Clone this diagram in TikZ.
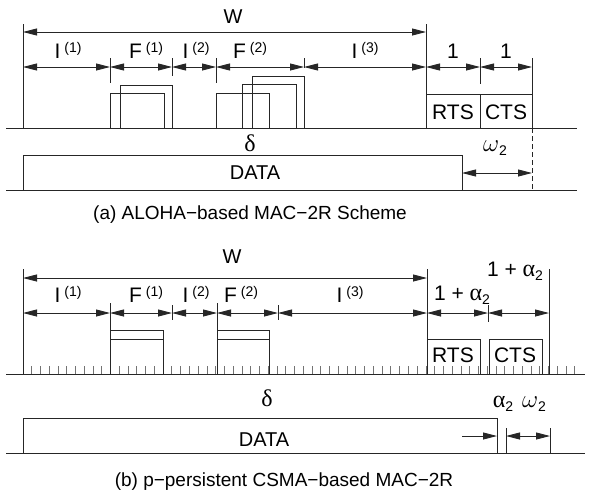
\documentclass[tikz,border=0pt]{standalone}
\usepackage{fontspec}
\setmainfont{Liberation Sans}
\newfontfamily\grk{Liberation Serif}
\usetikzlibrary{arrows.meta}
\newcommand\suplab[2]{#1\hspace{4pt}\raisebox{6pt}{\fontsize{14}{14}\selectfont(#2)}}
\newcommand\subtwo{\raisebox{-4pt}{\fontsize{14}{14}\selectfont 2}}
\newcommand\galpha{{\fontsize{24}{24}\selectfont\grk α}}
\newcommand\gomega{{\fontsize{24}{24}\selectfont$\omega$}}
\newcommand\onealpha{1 + \galpha\subtwo}
\tikzset{
  ln/.style={line width=0.9pt, draw=black!85},
  bx/.style={line width=0.9pt, draw=black!85},
  dimarr/.style={line width=0.9pt, draw=black!85, {Triangle[length=14pt,width=7pt]}-{Triangle[length=14pt,width=7pt]}},
  onearr/.style={line width=0.9pt, draw=black!85, -{Triangle[length=14pt,width=7pt]}},
  smalltick/.style={line width=0.9pt, draw=black!55},
  lab/.style={inner sep=0pt, font=\fontsize{21}{24}\selectfont},
  mid/.style={inner sep=0pt, font=\fontsize{20}{23}\selectfont},
  grtxt/.style={inner sep=0pt, font=\fontsize{24}{26}\selectfont\grk},
  captxt/.style={inner sep=0pt, font=\fontsize{19}{22}\selectfont}
}
\begin{document}
\begin{tikzpicture}[x=1pt,y=-1pt]
\useasboundingbox (0,0) rectangle (591,498);
% ================= (a) =================
\coordinate (aB1l) at (6,128);   \coordinate (aB1r) at (577,128);
\coordinate (aB2l) at (6,190);   \coordinate (aB2r) at (577,190);
\draw[ln] (aB1l) -- (aB1r);
\draw[ln] (aB2l) -- (aB2r);
\coordinate (aL0) at (23,24);  \coordinate (aL1) at (23,128);
\coordinate (aR0) at (426,24); \coordinate (aR1) at (426,128);
\draw[ln] (aL0) -- (aL1);
\draw[ln] (aR0) -- (aR1);
\draw[dimarr] (23,32) -- (426,32);
\node[mid] (aW) at (233,17) {W};
% ticks
\draw[ln] (110,58) -- (110,83);
\draw[ln] (172,58) -- (172,76);
\draw[ln] (216,58) -- (216,83);
\draw[ln] (304,58) -- (304,68);
\draw[ln] (480,58) -- (480,84);
\draw[ln] (532,58) -- (532,128);
\draw[ln, dash pattern=on 5pt off 3pt] (532,128) -- (532,190);
% dims
\draw[dimarr] (23,67) -- (110,67);
\draw[dimarr] (110,67) -- (172,67);
\draw[dimarr] (172,67) -- (216,67);
\draw[dimarr] (216,67) -- (304,67);
\draw[dimarr] (304,67) -- (426,67);
\draw[dimarr] (426,67) -- (480,67);
\draw[dimarr] (480,67) -- (532,67);
\node[lab] (aI1) at (68,50) {\suplab{I}{1}};
\node[lab] (aF1) at (146,50) {\suplab{F}{1}};
\node[lab] (aI2) at (196,50) {\suplab{I}{2}};
\node[lab] (aF2) at (250,50) {\suplab{F}{2}};
\node[lab] (aI3) at (365,50) {\suplab{I}{3}};
\node[lab] (aOne1) at (453,51) {1};
\node[lab] (aOne2) at (506,51) {1};
% frames
\draw[bx] (110,93) rectangle (164,128);
\draw[bx] (120,85) rectangle (172,128);
\draw[bx] (216,93) rectangle (269,128);
\draw[bx] (242,84) rectangle (296,128);
\draw[bx] (252,76) rectangle (304,128);
\draw[bx] (426,94) rectangle (480,128);
\draw[bx] (480,94) rectangle (532,128);
\node[lab] (aRTS) at (453,112) {RTS};
\node[lab] (aCTS) at (506,112) {CTS};
% data
\node[grtxt] (aDelta) at (250,143) {δ};
\draw[bx] (23,155) rectangle (462,190);
\node[mid] (aDATA) at (255,173) {DATA};
\draw[dimarr] (462,173) -- (532,173);
\node[inner sep=0pt] (aOm) at (495,148) {\gomega\subtwo};
\node[captxt] (capA) at (250,215) {(a) ALOHA−based MAC−2R Scheme};
% ================= (b) =================
\draw[ln] (6,374) -- (585,374);
\draw[ln] (6,453) -- (585,453);
\foreach \k in {1,...,63} \draw[smalltick] ({23+\k*8.76},366) -- ({23+\k*8.76},374);
\draw[ln] (23,269) -- (23,374);
\draw[ln] (427,269) -- (427,374);
\draw[ln] (549,269) -- (549,374);
\draw[dimarr] (23,278) -- (427,278);
\node[mid] (bW) at (232,257) {W};
\draw[ln] (110,303) -- (110,374);
\draw[ln] (172,305) -- (172,320);
\draw[ln] (217,303) -- (217,374);
\draw[ln] (278,305) -- (278,320);
\draw[ln] (488,305) -- (488,322);
\draw[bx] (110,330) rectangle (163,374);
\draw[bx] (110,339) -- (163,339);
\draw[bx] (217,330) rectangle (269,374);
\draw[bx] (217,339) -- (269,339);
\draw[bx] (427,339) rectangle (480,374);
\draw[bx] (489,339) rectangle (542,374);
\node[lab] (bRTS) at (453,355) {RTS};
\node[lab] (bCTS) at (515,355) {CTS};
\draw[dimarr] (23,313) -- (110,313);
\draw[dimarr] (110,313) -- (172,313);
\draw[dimarr] (172,313) -- (217,313);
\draw[dimarr] (217,313) -- (278,313);
\draw[dimarr] (278,313) -- (427,313);
\draw[dimarr] (427,313) -- (488,313);
\draw[dimarr] (488,313) -- (549,313);
\node[lab] (bI1) at (68,294) {\suplab{I}{1}};
\node[lab] (bF1) at (146,294) {\suplab{F}{1}};
\node[lab] (bI2) at (196,294) {\suplab{I}{2}};
\node[lab] (bF2) at (241,294) {\suplab{F}{2}};
\node[lab] (bI3) at (350,294) {\suplab{I}{3}};
\node[lab] (bA1) at (462,295) {\onealpha};
\node[lab] (bA2) at (515,271) {\onealpha};
\node[grtxt] (bDelta) at (267,398) {δ};
\draw[bx] (23,418) rectangle (497,453);
\node[mid] (bDATA) at (264,440) {DATA};
\draw[onearr] (462,436) -- (497,436);
\draw[ln] (506,428) -- (506,453);
\draw[ln] (550,428) -- (550,453);
\draw[dimarr] (506,436) -- (550,436);
\node[inner sep=0pt] (bAl) at (503,404) {\galpha\subtwo};
\node[inner sep=0pt] (bOm) at (534,404) {\gomega\subtwo};
\node[captxt] (capB) at (284,482) {(b) p−persistent CSMA−based MAC−2R};
\end{tikzpicture}
\end{document}
